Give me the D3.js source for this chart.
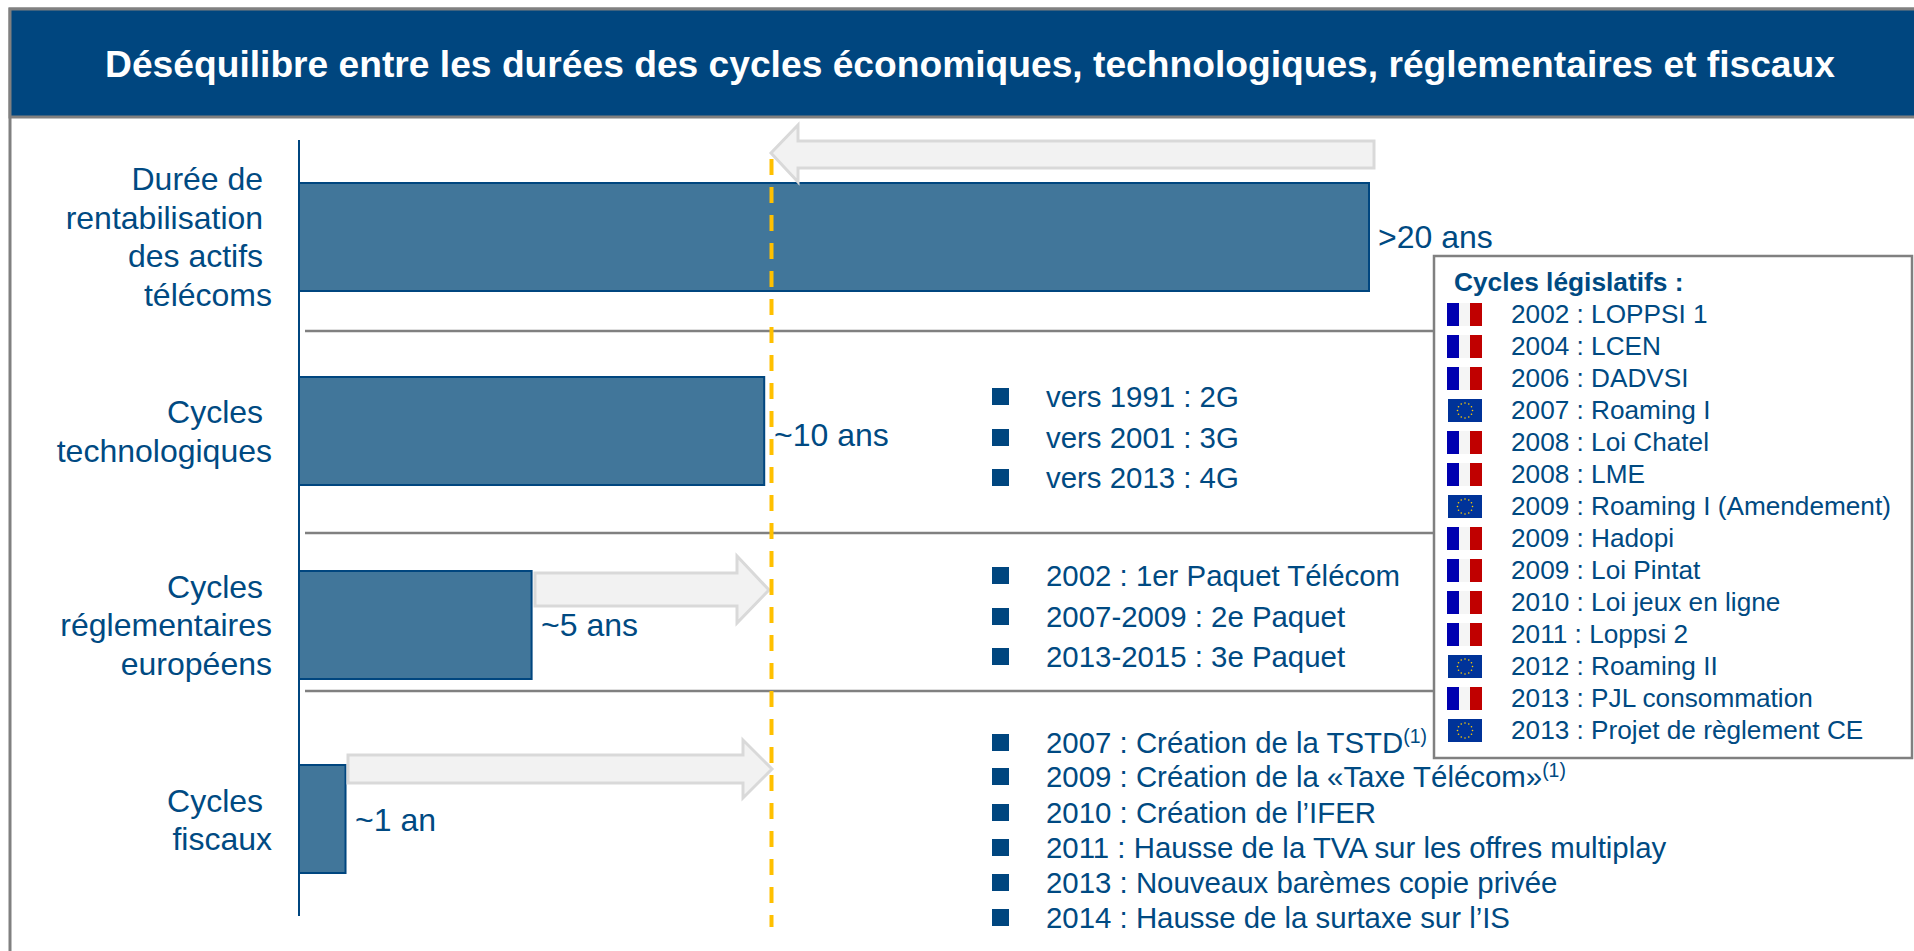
<!DOCTYPE html>
<html><head><meta charset="utf-8">
<script src="https://cdn.jsdelivr.net/npm/d3@7/dist/d3.min.js"></script>
<style>html,body{margin:0;padding:0;background:#fff}svg{display:block}text{font-family:"Liberation Sans",Arial,sans-serif}</style>
</head><body>
<svg id="c" width="1914" height="951"></svg>
<script>
const titleText = "Déséquilibre entre les durées des cycles économiques, technologiques, réglementaires et fiscaux";
const categories = ["telecom","techno","regl","fisc"];
const durations = [23, 10, 5, 1];
const valueLabels = [">20 ans","~10 ans","~5 ans","~1 an"];
const categoryLines = [
  ["Durée de ","rentabilisation ","des actifs ","télécoms"],
  ["Cycles ","technologiques"],
  ["Cycles ","réglementaires","européens"],
  ["Cycles ","fiscaux"]
];
const techList = ["vers 1991 : 2G","vers 2001 : 3G","vers 2013 : 4G"];
const reglList = ["2002 : 1er Paquet Télécom","2007-2009 : 2e Paquet","2013-2015 : 3e Paquet"];
const fiscList = ["2007 : Création de la TSTD|(1)","2009 : Création de la «Taxe Télécom»|(1)","2010 : Création de l’IFER","2011 : Hausse de la TVA sur les offres multiplay","2013 : Nouveaux barèmes copie privée","2014 : Hausse de la surtaxe sur l’IS"];
const legislative = ["2002 : LOPPSI 1","2004 : LCEN","2006 : DADVSI","2007 : Roaming I","2008 : Loi Chatel","2008 : LME","2009 : Roaming I (Amendement)","2009 : Hadopi","2009 : Loi Pintat","2010 : Loi jeux en ligne","2011 : Loppsi 2","2012 : Roaming II","2013 : PJL consommation","2013 : Projet de règlement CE"];
const origins = ["fr","fr","fr","eu","fr","fr","eu","fr","fr","fr","fr","eu","fr","eu"];

const NAVY="#00467F", TXT="#004A82", BAR="#41769A", GREY="#808080";
const svg=d3.select("#c");
const x=d3.scaleLinear().domain([0,23]).range([299,1369]);
const barTops=[183,377,571,765], barH=108;
const y=d3.scaleOrdinal().domain(categories).range(barTops);

// frame and header
svg.append("rect").attr("x",10).attr("y",9).attr("width",1910).attr("height",960).attr("fill","#fff").attr("stroke",GREY).attr("stroke-width",3);
svg.append("rect").attr("x",10).attr("y",9).attr("width",1910).attr("height",108).attr("fill",NAVY).attr("stroke",GREY).attr("stroke-width",3);
svg.append("text").attr("x",970).attr("y",77).attr("text-anchor","middle").attr("font-size",37.2).attr("font-weight",700).attr("fill","#fff").text(titleText);

// separators
svg.selectAll("line.sep").data([331,533,691]).join("line").attr("class","sep")
  .attr("x1",305).attr("x2",1434).attr("y1",d=>d).attr("y2",d=>d).attr("stroke",GREY).attr("stroke-width",2.5);

// bars
svg.selectAll("rect.bar").data(categories).join("rect").attr("class","bar")
  .attr("x",x(0)).attr("y",d=>y(d)).attr("width",(d,i)=>x(durations[i])-x(0)).attr("height",barH)
  .attr("fill",BAR).attr("stroke",NAVY).attr("stroke-width",2);

// axis
svg.append("line").attr("x1",x(0)).attr("x2",x(0)).attr("y1",140).attr("y2",916).attr("stroke",NAVY).attr("stroke-width",2);

// arrows
const arrow=d3.line();
const arrows=[
 {pts:[[1374,141],[798,141],[798,125],[771,153],[798,182],[798,168],[1374,168]]},
 {pts:[[535,573],[737,573],[737,556],[769,590],[737,623],[737,606],[535,606]]},
 {pts:[[348,755],[743,755],[743,740],[772,769],[743,798],[743,783],[348,783]]}
];
svg.selectAll("path.arr").data(arrows).join("path").attr("class","arr")
  .attr("d",d=>arrow(d.pts)+"Z").attr("fill","#F2F2F2").attr("stroke","#D9D9D9").attr("stroke-width",3);

// dashed reference
svg.append("line").attr("x1",771.5).attr("x2",771.5).attr("y1",159).attr("y2",927)
  .attr("stroke","#FFC000").attr("stroke-width",4).attr("stroke-dasharray","16 12");

// category labels
const catBase=[[190,229,267,306],[423,462],[598,636,675],[812,850]];
categoryLines.forEach((lines,i)=>lines.forEach((l,j)=>{
  svg.append("text").attr("x",272).attr("y",catBase[i][j]).attr("text-anchor","end").style("white-space","pre")
    .attr("font-size",32).attr("fill",TXT).text(l);
}));

// value labels
const valPos=[[1378,248],[774,446],[541,636],[355,831]];
svg.selectAll("text.val").data(valueLabels).join("text").attr("class","val")
  .attr("x",(d,i)=>valPos[i][0]).attr("y",(d,i)=>valPos[i][1]).attr("font-size",32).attr("fill",TXT).text(d=>d);

// bullet lists
function list(items,bases,bx,tx,fs){
  items.forEach((s,i)=>{
    const b=bases[i];
    svg.append("rect").attr("x",bx).attr("y",b-19).attr("width",17).attr("height",17).attr("fill",NAVY);
    const [m,sup]=s.split("|");
    const t=svg.append("text").attr("x",tx).attr("y",b).attr("font-size",fs).attr("fill",TXT);
    t.append("tspan").text(m);
    if(sup) t.append("tspan").attr("font-size",fs*0.66).attr("dy",-10).text(sup);
  });
}
list(techList,[407,448,488],992,1046,29.4);
list(reglList,[586,627,667],992,1046,29.4);
list(fiscList,[753,787,823,858,893,928],992,1046,29.4);

// legislative box
svg.append("rect").attr("x",1434).attr("y",256).attr("width",478).attr("height",502).attr("fill","#fff").attr("stroke",GREY).attr("stroke-width",2.5);
svg.append("text").attr("x",1454).attr("y",291).attr("font-size",26.3).attr("font-weight",700).attr("fill",TXT).text("Cycles législatifs :");
const rowY=i=>303+32*i;
legislative.forEach((s,i)=>{
  const g=svg.append("g").attr("transform",`translate(1447,${rowY(i)})`);
  if(origins[i]==="fr"){
    g.append("rect").attr("width",12).attr("height",23).attr("fill","#0000B0");
    g.append("rect").attr("x",12).attr("width",11).attr("height",23).attr("fill","#F5F5F5");
    g.append("rect").attr("x",23).attr("width",12).attr("height",23).attr("fill","#C00000");
  } else {
    g.append("rect").attr("x",1).attr("width",34).attr("height",23).attr("fill","#003399");
    d3.range(12).forEach(k=>{
      const a=k*Math.PI/6;
      g.append("circle").attr("cx",18+7.5*Math.cos(a)).attr("cy",11.5+7.5*Math.sin(a)).attr("r",0.8).attr("fill","#FFCC00");
    });
  }
  svg.append("text").attr("x",1511).attr("y",rowY(i)+20).attr("font-size",26.2).attr("fill",TXT).text(s);
});
</script>
</body></html>
